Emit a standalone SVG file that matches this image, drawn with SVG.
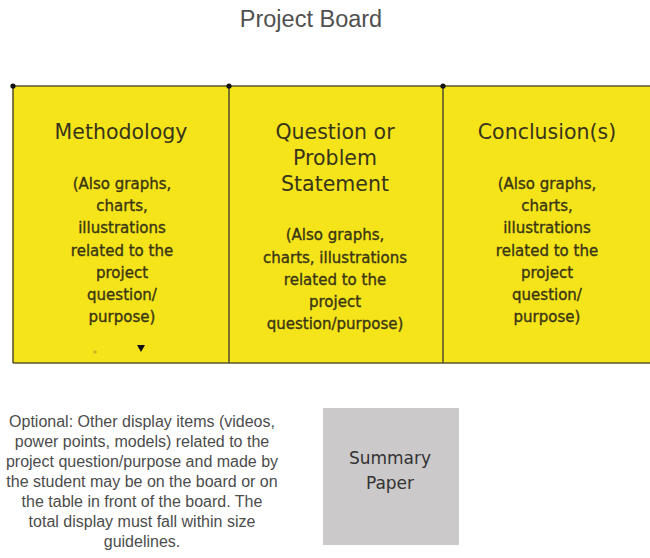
<svg xmlns="http://www.w3.org/2000/svg" width="650" height="558" viewBox="0 0 650 558">
  <style>
    .title { font-family: "Liberation Sans", Arial, sans-serif; font-size: 23.5px; fill: #505050; text-anchor: middle; }
    .panel { fill: #f6e41a; }
    .edge { stroke: #5a572c; stroke-width: 1.6; fill: none; }
    .corner { fill: #111111; }
    .head { font-family: "DejaVu Sans", Verdana, sans-serif; font-size: 20.5px; fill: #37351a; text-anchor: middle; }
    .sub { font-family: "DejaVu Sans", Verdana, sans-serif; font-size: 15px; fill: #3a3614; stroke: #3a3614; stroke-width: 0.35; text-anchor: middle; }
    .note { font-family: "Liberation Sans", Arial, sans-serif; font-size: 16px; fill: #4c4c4c; text-anchor: middle; }
    .paper { fill: #cbc9ca; }
    .paper-text { font-family: "DejaVu Sans", Verdana, sans-serif; font-size: 17px; fill: #333333; text-anchor: middle; }
  </style>

  <rect width="650" height="558" fill="#ffffff"/>

  <g id="title">
    <text class="title" x="311" y="27">Project Board</text>
  </g>

  <!-- board background and frame -->
  <g id="board">
    <rect class="panel" x="13" y="86" width="637" height="277"/>
    <path class="edge" d="M13 86 H650 M13 363 H650 M13 86 V363 M229 86 V363 M443 86 V363"/>
    <circle class="corner" cx="13" cy="86" r="2.6"/>
    <circle class="corner" cx="229" cy="86" r="2.6"/>
    <circle class="corner" cx="443" cy="86" r="2.6"/>
  </g>

  <g id="methodology">
    <text class="head" x="121" y="139">Methodology</text>
    <text class="sub" x="122" y="189">(Also graphs,</text>
    <text class="sub" x="122" y="211">charts,</text>
    <text class="sub" x="122" y="233">illustrations</text>
    <text class="sub" x="122" y="256">related to the</text>
    <text class="sub" x="122" y="278">project</text>
    <text class="sub" x="122" y="300">question/</text>
    <text class="sub" x="122" y="322">purpose)</text>
    <circle cx="95" cy="352" r="1.8" fill="#c9b62a"/>
    <path d="M137 345 H145 L141 352 Z" fill="#111111"/>
  </g>

  <g id="question">
    <text class="head" x="335" y="139">Question or</text>
    <text class="head" x="335" y="165">Problem</text>
    <text class="head" x="335" y="191">Statement</text>
    <text class="sub" x="335" y="240">(Also graphs,</text>
    <text class="sub" x="335" y="263">charts, illustrations</text>
    <text class="sub" x="335" y="285">related to the</text>
    <text class="sub" x="335" y="307">project</text>
    <text class="sub" x="335" y="329">question/purpose)</text>
  </g>

  <g id="conclusions">
    <text class="head" x="547" y="139">Conclusion(s)</text>
    <text class="sub" x="547" y="189">(Also graphs,</text>
    <text class="sub" x="547" y="211">charts,</text>
    <text class="sub" x="547" y="233">illustrations</text>
    <text class="sub" x="547" y="256">related to the</text>
    <text class="sub" x="547" y="278">project</text>
    <text class="sub" x="547" y="300">question/</text>
    <text class="sub" x="547" y="322">purpose)</text>
  </g>

  <g id="optional-note">
    <text class="note" x="142" y="427">Optional: Other display items (videos,</text>
    <text class="note" x="142" y="447">power points, models) related to the</text>
    <text class="note" x="142" y="467">project question/purpose and made by</text>
    <text class="note" x="142" y="487">the student may be on the board or on</text>
    <text class="note" x="142" y="507">the table in front of the board.  The</text>
    <text class="note" x="142" y="527">total display must fall within size</text>
    <text class="note" x="142" y="547">guidelines.</text>
  </g>

  <g id="summary-paper">
    <rect class="paper" x="323" y="408" width="136" height="137"/>
    <text class="paper-text" x="390" y="464">Summary</text>
    <text class="paper-text" x="390" y="489">Paper</text>
  </g>

  <!-- no connectors in this layout -->
  <g id="connectors"/>
</svg>
